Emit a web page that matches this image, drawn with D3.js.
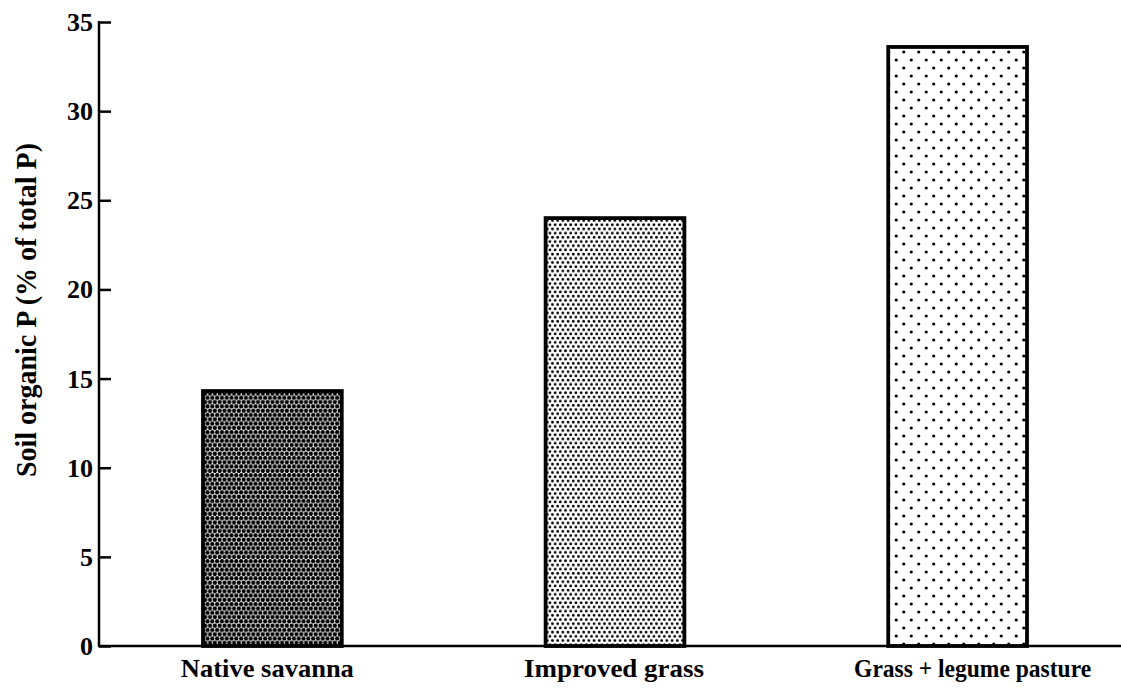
<!DOCTYPE html>
<html><head><meta charset="utf-8">
<script src="https://cdn.jsdelivr.net/npm/d3@7"></script>
<style>html,body{margin:0;padding:0;background:#fff;}svg{display:block;}</style>
</head><body>
<svg id="chart" width="1121" height="688"></svg>
<script>
const categories = ["Native savanna", "Improved grass", "Grass + legume pasture"];
const values = [14.3, 24.0, 33.6];
const yTicks = [0, 5, 10, 15, 20, 25, 30, 35];
const yTitle = "Soil organic P (% of total P)";

const svg = d3.select("#chart");
const font = "'Liberation Serif', 'DejaVu Serif', serif";

const y = d3.scaleLinear().domain([0, 35]).range([646, 22]);
const x = d3.scaleBand().domain(categories).range([203, 1027]).paddingInner(0.595).paddingOuter(0);

// patterns
const defs = svg.append("defs");
const pats = [
  {id: "p0", w: 4.8, h: 8.6, r: 2.1},
  {id: "p1", w: 5.2, h: 8.4, r: 1.4},
  {id: "p2", w: 15, h: 16, r: 1.6}
];
pats.forEach(p => {
  const pt = defs.append("pattern").attr("id", p.id).attr("patternUnits", "userSpaceOnUse")
    .attr("width", p.w).attr("height", p.h);
  pt.append("rect").attr("width", p.w).attr("height", p.h).attr("fill", "#fff");
  [[p.w*0.25, p.h*0.25], [p.w*0.75, p.h*0.75], [p.w*1.25, p.h*0.25], [-p.w*0.25, p.h*0.75],
   [p.w*0.25, p.h*1.25], [p.w*0.75, -p.h*0.25]].forEach(([cx, cy]) => {
    pt.append("circle").attr("cx", cx).attr("cy", cy).attr("r", p.r).attr("fill", "#000");
  });
});

// bars
svg.selectAll("rect.bar").data(categories).enter().append("rect")
  .attr("class", "bar")
  .attr("x", d => x(d))
  .attr("y", (d, i) => y(values[i]))
  .attr("width", x.bandwidth())
  .attr("height", (d, i) => y(0) - y(values[i]))
  .attr("fill", (d, i) => `url(#p${i})`)
  .attr("stroke", "#000")
  .attr("stroke-width", 3.8);

// y axis
const gy = svg.append("g").attr("transform", "translate(99,0)")
  .call(d3.axisRight(y).tickValues(yTicks).tickSize(12).tickFormat(""));
gy.select(".domain").remove();
gy.selectAll(".tick line").attr("stroke", "#000").attr("stroke-width", 2.5);
svg.append("line").attr("x1", 99).attr("x2", 99).attr("y1", y(35) - 1).attr("y2", y(0))
  .attr("stroke", "#000").attr("stroke-width", 2.5);
svg.selectAll("text.ytick").data(yTicks).enter().append("text")
  .attr("class", "ytick")
  .attr("x", 93).attr("y", d => y(d) + 9)
  .attr("text-anchor", "end")
  .attr("font-family", font).attr("font-weight", "bold").attr("font-size", 26)
  .text(d => d);

// x axis line
svg.append("line").attr("x1", 98).attr("x2", 1121).attr("y1", y(0)).attr("y2", y(0))
  .attr("stroke", "#000").attr("stroke-width", 2.5);

// x labels
const labelLen = [173, 180, 237];
const labelDx = [-5, -1, 15];
svg.selectAll("text.xlab").data(categories).enter().append("text")
  .attr("class", "xlab")
  .attr("x", (d, i) => x(d) + x.bandwidth() / 2 + labelDx[i])
  .attr("y", 677)
  .attr("text-anchor", "middle")
  .attr("font-family", font).attr("font-weight", "bold").attr("font-size", 25)
  .attr("textLength", (d, i) => labelLen[i]).attr("lengthAdjust", "spacingAndGlyphs")
  .text(d => d);

// y title
svg.append("text")
  .attr("transform", "translate(36,310) rotate(-90)")
  .attr("text-anchor", "middle")
  .attr("font-family", font).attr("font-weight", "bold").attr("font-size", 29)
  .attr("textLength", 334).attr("lengthAdjust", "spacingAndGlyphs")
  .text(yTitle);
</script>
</body></html>
